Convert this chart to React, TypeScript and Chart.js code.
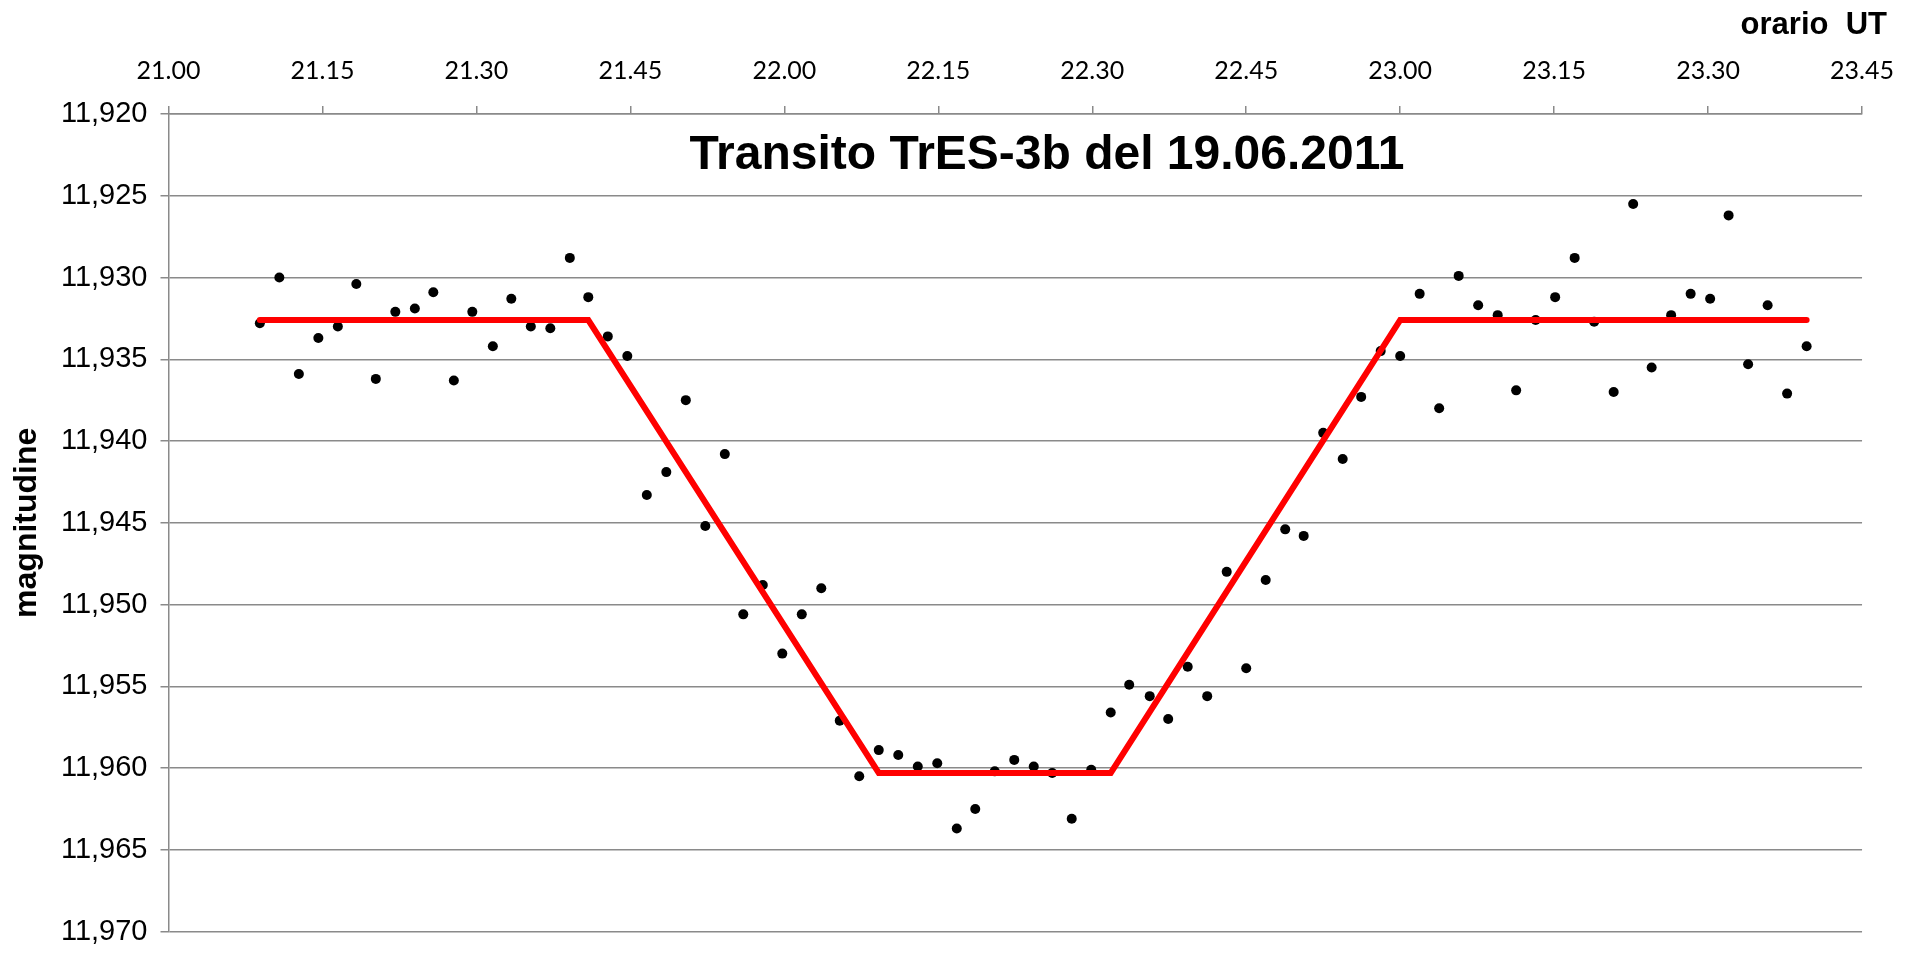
import React, { useEffect, useRef } from 'react';
import { Chart, registerables } from 'chart.js';

Chart.register(...registerables);

// Observation times, minutes after 21:00 UT
const times = [
  8.9, 10.8, 12.7, 14.6, 16.5, 18.3, 20.2, 22.1, 24.0, 25.8,
  27.8, 29.6, 31.6, 33.4, 35.3, 37.2, 39.1, 40.9, 42.8, 44.7,
  46.6, 48.5, 50.4, 52.3, 54.2, 56.0, 57.9, 59.8, 61.7, 63.6,
  65.4, 67.3, 69.2, 71.1, 73.0, 74.9, 76.8, 78.6, 80.5, 82.4,
  84.3, 86.1, 88.0, 89.9, 91.8, 93.6, 95.6, 97.4, 99.3, 101.2,
  103.1, 105.0, 106.9, 108.8, 110.6, 112.5, 114.4, 116.2, 118.1, 120.0,
  121.9, 123.8, 125.7, 127.6, 129.5, 131.3, 133.2, 135.1, 137.0, 138.9,
  140.8, 142.7, 144.5, 146.4, 148.3, 150.2, 152.0, 153.9, 155.8, 157.7,
  159.6,
];

// Measured magnitudes
const magnitudes = [
  11.9328, 11.9300, 11.9359, 11.9337, 11.9330, 11.9304, 11.9362, 11.9321, 11.9319, 11.9309,
  11.9363, 11.9321, 11.9342, 11.9313, 11.9330, 11.9331, 11.9288, 11.9312, 11.9336, 11.9348,
  11.9433, 11.9419, 11.9375, 11.9452, 11.9408, 11.9506, 11.9488, 11.9530, 11.9506, 11.9490,
  11.9571, 11.9605, 11.9589, 11.9592, 11.9599, 11.9597, 11.9637, 11.9625, 11.9602, 11.9595,
  11.9599, 11.9603, 11.9631, 11.9601, 11.9566, 11.9549, 11.9556, 11.9570, 11.9538, 11.9556,
  11.9480, 11.9539, 11.9485, 11.9454, 11.9458, 11.9395, 11.9411, 11.9373, 11.9345, 11.9348,
  11.9310, 11.9380, 11.9299, 11.9317, 11.9323, 11.9369, 11.9326, 11.9312, 11.9288, 11.9327,
  11.9370, 11.9255, 11.9355, 11.9323, 11.9310, 11.9313, 11.9262, 11.9353, 11.9317, 11.9371,
  11.9342,
];

// Transit model (trapezoid)
const modelTimes = [8.9, 40.9, 69.2, 91.8, 120.0, 159.6];
const modelMagnitudes = [11.9326, 11.9326, 11.9603, 11.9603, 11.9326, 11.9326];

const xTickLabels = [
  '21.00', '21.15', '21.30', '21.45', '22.00', '22.15',
  '22.30', '22.45', '23.00', '23.15', '23.30', '23.45',
];
const xMin = 0;
const xMax = 165;
const xStep = 15;
const yMin = 11.92;
const yMax = 11.97;
const yStep = 0.005;

const titleText = 'Transito TrES-3b del 19.06.2011';
const xAxisTitle = 'orario  UT';
const yAxisTitle = 'magnitudine';

const GRID = '#8a8a8a';
const ARIAL = '"Liberation Sans", Arial, sans-serif';

const overlayText = {
  id: 'overlayText',
  afterDraw(chart: any) {
    const { ctx, chartArea } = chart;
    ctx.save();
    ctx.fillStyle = '#000';
    ctx.font = `bold 48px ${ARIAL}`;
    ctx.textAlign = 'center';
    ctx.textBaseline = 'alphabetic';
    ctx.fillText(titleText, chartArea.left + chartArea.width * 0.5187, chartArea.top + 54.5);
    ctx.font = `bold 31px ${ARIAL}`;
    ctx.textAlign = 'right';
    ctx.fillText(xAxisTitle, chart.width - 27, 33.5);
    ctx.restore();
  },
};

export default function App() {
  const canvasRef = useRef<HTMLCanvasElement | null>(null);

  useEffect(() => {
    document.body.style.margin = '0';
    document.body.style.overflow = 'hidden';
    const canvas = canvasRef.current;
    if (!canvas) return;

    const points = times.map((t, i) => ({ x: t, y: magnitudes[i] }));
    const model = modelTimes.map((t, i) => ({ x: t, y: modelMagnitudes[i] }));

    const chart = new Chart(canvas, {
      type: 'scatter',
      data: {
        datasets: [
          {
            type: 'line',
            label: 'modello',
            data: model,
            borderColor: '#ff0000',
            backgroundColor: '#ff0000',
            borderWidth: 6,
            pointRadius: 0,
            tension: 0,
            fill: false,
            borderCapStyle: 'round',
            borderJoinStyle: 'miter',
          } as any,
          {
            type: 'scatter',
            label: 'magnitudine',
            data: points,
            backgroundColor: '#000000',
            borderColor: '#000000',
            borderWidth: 0,
            pointRadius: 5,
          } as any,
        ],
      },
      options: {
        responsive: false,
        animation: false,
        devicePixelRatio: 1,
        layout: { padding: { left: 0, top: 0, right: 50, bottom: 15 } },
        plugins: {
          legend: { display: false },
          tooltip: { enabled: false },
          title: { display: false },
        },
        scales: {
          x: {
            type: 'linear',
            position: 'top',
            min: xMin,
            max: xMax,
            afterFit: (scale: any) => {
              scale.height = 114;
            },
            ticks: {
              stepSize: xStep,
              autoSkip: false,
              maxRotation: 0,
              padding: 20,
              color: '#000',
              font: { family: 'Lato, "Open Sans", sans-serif', size: 25 },
              callback: (_v: any, i: number) => xTickLabels[i],
            },
            grid: {
              display: true,
              drawOnChartArea: false,
              drawTicks: true,
              tickLength: 8,
              color: GRID,
              lineWidth: 1.5,
            },
            border: { display: true, color: GRID, width: 1.5 },
          },
          y: {
            type: 'linear',
            position: 'left',
            reverse: true,
            min: yMin,
            max: yMax,
            afterFit: (scale: any) => {
              scale.width = 168.5;
            },
            title: {
              display: true,
              text: yAxisTitle,
              color: '#000',
              font: { family: ARIAL, size: 32, weight: 'bold' },
              padding: { top: 8, bottom: 0 },
            },
            ticks: {
              stepSize: yStep,
              autoSkip: false,
              padding: 13,
              color: '#000',
              font: { family: ARIAL, size: 29 },
              callback: (v: any) => Number(v).toFixed(3).replace('.', ','),
            },
            grid: {
              display: true,
              drawOnChartArea: true,
              drawTicks: true,
              tickLength: 8,
              color: GRID,
              lineWidth: 1.5,
            },
            border: { display: true, color: GRID, width: 1.5 },
          },
        },
      },
      plugins: [overlayText],
    });

    return () => {
      chart.destroy();
    };
  }, []);

  return (
    <div style={{ position: 'absolute', left: 0, top: 0, width: 1914, height: 962, background: '#fff' }}>
      <canvas ref={canvasRef} width={1914} height={962} style={{ display: 'block' }} />
    </div>
  );
}
